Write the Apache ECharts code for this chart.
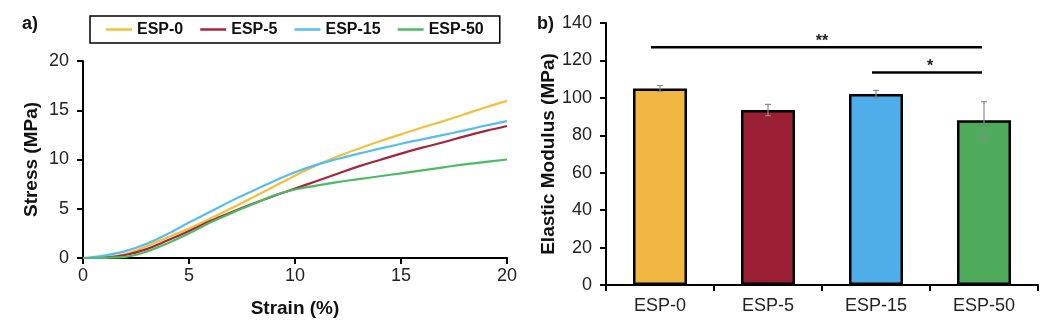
<!DOCTYPE html>
<html>
<head>
<meta charset="utf-8">
<script src="https://cdn.jsdelivr.net/npm/echarts@6/dist/echarts.min.js"></script>
<style>
html,body{margin:0;padding:0;background:#fff;}
#c{width:1052px;height:326px;}
</style>
</head>
<body>
<div id="c"></div>
<script>
// ---- data ----
const strain = [0,1,2,3,4,5,6,7,8,9,10,11,12,13,14,15,16,17,18,19,20];
const esp0  = [0,0.05,0.4,1.2,2.1,3.0,4.0,5.05,6.15,7.25,8.35,9.4,10.3,11.1,11.85,12.55,13.25,13.9,14.6,15.3,15.95];
const esp5  = [0,0.05,0.3,0.9,1.8,2.75,3.75,4.65,5.5,6.3,7.05,7.8,8.55,9.3,9.95,10.6,11.2,11.75,12.35,12.9,13.4];
const esp15 = [0,0.25,0.7,1.45,2.45,3.6,4.7,5.8,6.8,7.8,8.7,9.45,10.05,10.6,11.1,11.6,12.05,12.5,12.95,13.45,13.9];
const esp50 = [0,0.02,0.12,0.65,1.5,2.5,3.6,4.55,5.45,6.35,6.95,7.35,7.7,8.0,8.3,8.6,8.9,9.2,9.5,9.75,10.0];
const seriesNames = ['ESP-0','ESP-5','ESP-15','ESP-50'];
const categories = ['ESP-0','ESP-5','ESP-15','ESP-50'];
const modulus = [105, 93.5, 102, 88];
const modulusErr = [1.6, 3, 2, 10];
const sigStart = [0, 2];
const sigEnd = [3, 3];
const sigHeight = [127, 113.5];
const sigLabel = ['**', '*'];
const lineColors = ['#F5BF3C','#A8233C','#55BDF2','#4CBB63'];
const barColors = ['#F0B843','#9A1F34','#4FAEE9','#4EAB5C'];

const curves = [esp0, esp5, esp15, esp50];
const font = 'Liberation Sans, Arial, sans-serif';

const chart = echarts.init(document.getElementById('c'));
const axisLine = {lineStyle:{color:'#000', width:2}};
const axisTick = {show:true, length:6, lineStyle:{color:'#000', width:2}};
const axisLabel = {color:'#222', fontSize:18, fontFamily:font};
const nameStyle = {color:'#111', fontSize:19, fontWeight:'bold', fontFamily:font};

const lineSeries = curves.map((c,i)=>({
  name: seriesNames[i], type:'line', xAxisIndex:0, yAxisIndex:0,
  data: strain.map((s,k)=>[s,c[k]]), smooth:0.4, symbol:'none',
  lineStyle:{color:lineColors[i], width:2.2}, itemStyle:{color:lineColors[i]}, z:3
}));

const option = {
  animation:false,
  backgroundColor:'#fff',
  legend:{
    data: seriesNames.map(n=>({name:n, icon:'rect'})), left:90, top:16, orient:'horizontal',
    borderColor:'#000', borderWidth:1.5, padding:[5,16], itemGap:17,
    itemWidth:26, itemHeight:2.5,
    textStyle:{fontSize:16, fontWeight:'bold', color:'#111', fontFamily:font, lineHeight:17}
  },
  graphic:[
    {type:'text', left:22, top:15, style:{text:'a)', font:'bold 18px '+font, fill:'#111'}},
    {type:'text', left:537, top:15, style:{text:'b)', font:'bold 18px '+font, fill:'#111'}}
  ],
  grid:[
    {left:83, right:545, top:61, bottom:68},
    {left:606, right:14, top:23, bottom:41}
  ],
  xAxis:[
    {type:'value', gridIndex:0, min:0, max:20, interval:5,
     axisLine, axisTick, axisLabel:{...axisLabel, margin:9}, splitLine:{show:false},
     name:'Strain (%)', nameLocation:'middle', nameGap:41, nameTextStyle:nameStyle},
    {type:'category', gridIndex:1, data:categories,
     axisLine, axisTick:{...axisTick, alignWithLabel:false}, axisLabel:{...axisLabel, margin:12},
     splitLine:{show:false}}
  ],
  yAxis:[
    {type:'value', gridIndex:0, min:0, max:20, interval:5,
     axisLine:{show:true, ...axisLine}, axisTick, axisLabel:{...axisLabel, margin:14}, splitLine:{show:false},
     name:'Stress (MPa)', nameLocation:'middle', nameGap:42, nameTextStyle:nameStyle},
    {type:'value', gridIndex:1, min:0, max:140, interval:20,
     axisLine:{show:true, ...axisLine}, axisTick, axisLabel:{...axisLabel, margin:14}, splitLine:{show:false},
     name:'Elastic Modulus (MPa)', nameLocation:'middle', nameGap:47, nameTextStyle:nameStyle}
  ],
  series:[
    ...lineSeries,
    {type:'bar', xAxisIndex:1, yAxisIndex:1, barWidth:'50%',
     data: modulus.map((v,i)=>({value:v, itemStyle:{color:barColors[i]}})),
     itemStyle:{borderColor:'#000', borderWidth:2.5}, z:2},
    {type:'custom', xAxisIndex:1, yAxisIndex:1, z:5,
     data: modulus.map((v,i)=>[i, v-modulusErr[i], v+modulusErr[i]]),
     renderItem:(params, api)=>{
       const lo = api.coord([api.value(0), api.value(1)]);
       const hi = api.coord([api.value(0), api.value(2)]);
       const w = 3;
       const st = {stroke:'#8a8a8a', lineWidth:1.2};
       return {type:'group', children:[
         {type:'line', shape:{x1:hi[0], y1:hi[1], x2:lo[0], y2:lo[1]}, style:st},
         {type:'line', shape:{x1:hi[0]-w, y1:hi[1], x2:hi[0]+w, y2:hi[1]}, style:st},
         {type:'line', shape:{x1:lo[0]-w, y1:lo[1], x2:lo[0]+w, y2:lo[1]}, style:st}
       ]};
     }},
    {type:'custom', xAxisIndex:1, yAxisIndex:1, z:5,
     data: sigHeight.map((h,i)=>[sigStart[i], sigEnd[i], h]),
     renderItem:(params, api)=>{
       const a = api.coord([api.value(0), api.value(2)]);
       const b = api.coord([api.value(1), api.value(2)]);
       const lbl = sigLabel[params.dataIndex];
       return {type:'group', children:[
         {type:'line', shape:{x1:a[0]-(params.dataIndex===0?9:4), y1:a[1], x2:b[0]-2, y2:b[1]}, style:{stroke:'#000', lineWidth:2.5}},
         {type:'text', x:(a[0]+b[0])/2, y:a[1]-6, style:{text:lbl, font:'bold 16px '+font, fill:'#222', textAlign:'center', textVerticalAlign:'middle'}}
       ]};
     }}
  ]
};
chart.setOption(option);
</script>
</body>
</html>
